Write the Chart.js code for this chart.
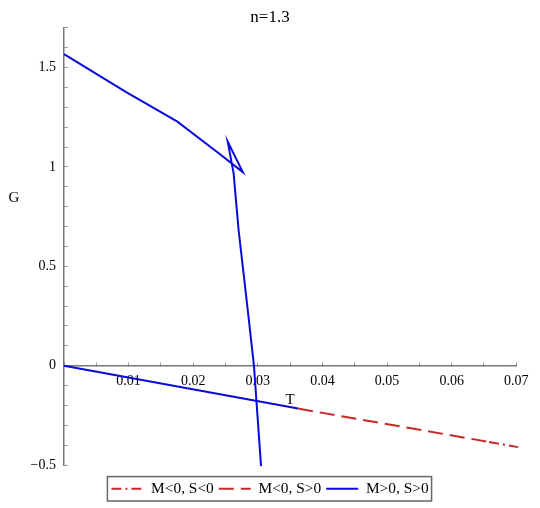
<!DOCTYPE html>
<html>
<head>
<meta charset="utf-8">
<script src="https://cdn.jsdelivr.net/npm/chart.js@4/dist/chart.umd.min.js"></script>
<style>
  html, body { margin: 0; padding: 0; background: #fff; }
  #wrap { width: 540px; height: 508px; }
</style>
</head>
<body>
<div id="wrap"><canvas id="chart" width="540" height="508"></canvas></div>
<script>
// swallowtail branch, M>0 S>0
const upperT = [0, 0.00963, 0.01755, 0.02395, 0.02768, 0.02533, 0.02625, 0.02702, 0.02779, 0.02855, 0.0294, 0.0305];
const upperG = [1.568, 1.377, 1.228, 1.069, 0.974, 1.128, 0.969, 0.684, 0.466, 0.248, 0, -0.506];
// lower branch, M>0 S>0
const lowerT = [0, 0.03623];
const lowerG = [0, -0.216];
// M<0, S>0
const dashT = [0.03623, 0.0658];
const dashG = [-0.216, -0.384];
// M<0, S<0
const dotT = [0.0658, 0.0703];
const dotG = [-0.384, -0.41];

const labels = ["M<0, S<0", "M<0, S>0", "M>0, S>0"];
const titleText = "n=1.3";

const serif = "'Liberation Serif', 'Times New Roman', serif";
const red = "#c82828";
const blue = "#0a0adc";

const pts = (ts, gs) => ts.map((t, i) => ({ x: t, y: gs[i] }));

const line = (label, data, color, dash) => ({
  label,
  data,
  showLine: true,
  borderColor: color,
  backgroundColor: color,
  borderWidth: 2,
  borderDash: dash,
  pointRadius: 0,
  pointHoverRadius: 0,
  tension: 0,
  clip: false,
  yAxisID: "y",
});

// legend frame + horizontal "G" label
const extras = {
  id: "extras",
  afterDraw(chart) {
    const { ctx } = chart;
    const boxes = chart.legend.legendHitBoxes;
    if (boxes && boxes.length) {
      const first = boxes[0];
      const last = boxes[boxes.length - 1];
      ctx.save();
      ctx.strokeStyle = "#666";
      ctx.lineWidth = 1.5;
      ctx.strokeRect(first.left - 4, first.top - 4.5, last.left + last.width + 3 - (first.left - 4), first.height + 9);
      ctx.restore();
    }
    ctx.save();
    ctx.font = `15px ${serif}`;
    ctx.fillStyle = "#000";
    ctx.textAlign = "center";
    ctx.textBaseline = "middle";
    ctx.fillText("G", 14, 198);
    ctx.restore();
  },
};

const baseLabels = Chart.defaults.plugins.legend.labels.generateLabels;

new Chart(document.getElementById("chart"), {
  type: "scatter",
  data: {
    datasets: [
      line(labels[0], pts(dotT, dotG), red, [10, 4, 2, 4]),
      line(labels[1], pts(dashT, dashG), red, [15, 7]),
      line(labels[2], pts(upperT, upperG), blue, []),
      line(labels[2], pts(lowerT, lowerG), blue, []),
    ],
  },
  options: {
    responsive: false,
    animation: false,
    events: [],
    layout: { padding: { top: 0, left: 0, right: 0, bottom: 1.5 } },
    plugins: {
      tooltip: { enabled: false },
      title: {
        display: true,
        text: titleText,
        color: "#000",
        font: { family: serif, size: 17, weight: "normal", lineHeight: 1.2 },
        padding: { top: 7.5, bottom: 0 },
      },
      legend: {
        position: "bottom",
        title: { display: true, text: "", padding: 0, font: { size: 11.1, lineHeight: 1 } },
        labels: {
          usePointStyle: true,
          pointStyle: "line",
          pointStyleWidth: 32,
          padding: 5,
          color: "#000",
          font: { family: serif, size: 15.4 },
          generateLabels: (chart) =>
            baseLabels(chart).map((item) => {
              const ds = chart.data.datasets[item.datasetIndex];
              return { ...item, lineDash: ds.borderDash, strokeStyle: ds.borderColor, lineWidth: ds.borderWidth };
            }),
          filter: (item) => item.datasetIndex !== 3,
        },
      },
    },
    scales: {
      x: {
        type: "linear",
        position: { y: 0 },
        min: 0,
        max: 0.07,
        afterFit: (s) => { s.height = 43; },
        border: { display: true, color: "#777", width: 1.5 },
        grid: { drawOnChartArea: false, drawTicks: true, tickLength: -4, color: "#999", lineWidth: 1 },
        ticks: {
          stepSize: 0.005,
          padding: 11.5,
          maxRotation: 0,
          autoSkip: false,
          color: "#000",
          font: { family: serif, size: 14 },
          callback: (v) => {
            const k = Math.round(v * 1000);
            return k > 0 && k % 10 === 0 ? (k / 1000).toFixed(2) : "";
          },
        },
        title: { display: true, text: "T", color: "#000", padding: 0, font: { family: serif, size: 15, lineHeight: 1.2 } },
      },
      y: {
        type: "linear",
        position: "left",
        min: -0.5,
        max: 1.7,
        afterFit: (s) => { s.width = 64; },
        border: { display: true, color: "#777", width: 1.5 },
        grid: { drawOnChartArea: false, drawTicks: true, tickLength: -4, color: "#999", lineWidth: 1 },
        ticks: {
          stepSize: 0.1,
          padding: 12,
          autoSkip: false,
          color: "#000",
          font: { family: serif, size: 14 },
          callback: (v) => {
            const k = Math.round(v * 10);
            if (k % 5 !== 0) return "";
            return String(k / 10).replace("-", "\u2212");
          },
        },
      },
      // empty right margin so the plot ends at T=0.07 while title/legend stay centred on the page
      margin: {
        type: "linear",
        position: "right",
        min: 0,
        max: 1,
        afterFit: (s) => { s.width = 20; },
        border: { display: false },
        grid: { display: false },
        ticks: { display: false },
      },
    },
  },
  plugins: [extras],
});
</script>
</body>
</html>
